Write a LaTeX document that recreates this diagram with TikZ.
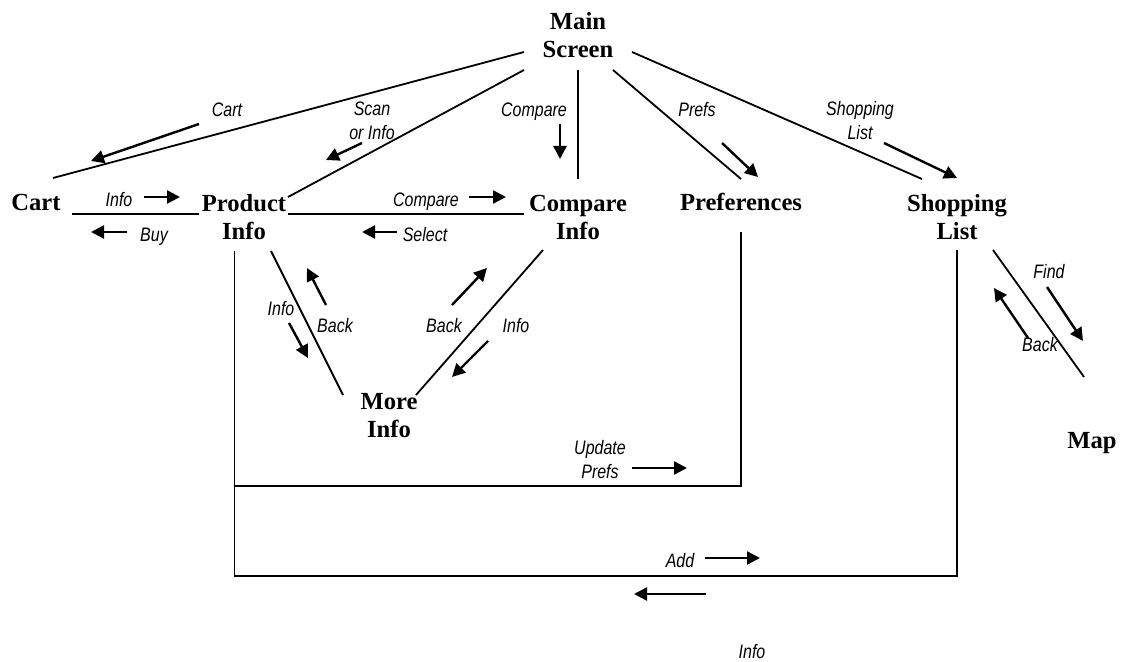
\documentclass[tikz,border=0pt]{standalone}
\usepackage{fontspec}
\setmainfont{Liberation Serif}
\newfontface\lblfont{Liberation Sans Italic}[FakeStretch=0.82]
\usetikzlibrary{arrows.meta}

\begin{document}
\begin{tikzpicture}[x=0.5pt,y=-0.5pt,
  screen/.style={font=\bfseries\fontsize{12.3}{14}\selectfont, align=center, inner sep=0pt, anchor=base},
  lbl/.style={font=\lblfont\fontsize{9.75}{12}\selectfont, align=center, inner sep=0pt, anchor=base},
  link/.style={line width=0.9pt},
  dir/.style={line width=1.2pt, -{Triangle[length=6.5pt,width=6.5pt]}}]

\path[use as bounding box, fill=white] (0,0) rectangle (1128,662);

% screens (a two-line node sits on the base line of its last line)
\node[screen] (main)     at (578,58)  {Main\\Screen};
\node[screen] (cart)     at (36,211)  {Cart};
\node[screen] (product)  at (244,240) {Product\\Info};
\node[screen] (compare)  at (578,240) {Compare\\Info};
\node[screen] (prefs)    at (741,211) {Preferences};
\node[screen] (shopping) at (957,240) {Shopping\\List};
\node[screen] (more)     at (389,437) {More\\Info};
\node[screen] (map)      at (1092,448) {Map};

% connector end points
\coordinate (main-a) at (524,52);
\coordinate (main-b) at (524,70);
\coordinate (main-c) at (578,70);
\coordinate (main-d) at (613,70);
\coordinate (main-e) at (632,52);
\coordinate (cart-n) at (53,178);
\coordinate (cart-e) at (72,214);
\coordinate (prod-w) at (199,214);
\coordinate (prod-ne) at (288,197);
\coordinate (prod-e) at (288,214);
\coordinate (prod-s) at (234.5,251);
\coordinate (prod-se) at (271,251);
\coordinate (comp-n) at (578,179);
\coordinate (comp-w) at (524,214);
\coordinate (comp-s) at (543,250);
\coordinate (pref-n) at (741,179);
\coordinate (pref-s) at (741,232);
\coordinate (shop-n) at (922,179);
\coordinate (shop-s) at (957,250);
\coordinate (shop-se) at (993,250);
\coordinate (more-nw) at (343,395);
\coordinate (more-ne) at (416,395);
\coordinate (map-n) at (1084,377);
\coordinate (upd) at (0,485.7);
\coordinate (add) at (0,575.7);

% connectors
\draw[link] (main-a) -- (cart-n);
\draw[link] (main-b) -- (prod-ne);
\draw[link] (main-c) -- (comp-n);
\draw[link] (main-d) -- (pref-n);
\draw[link] (main-e) -- (shop-n);
\draw[link] (cart-e) -- (prod-w);
\draw[link] (prod-e) -- (comp-w);
\draw[link] (prod-se) -- (more-nw);
\draw[link] (comp-s) -- (more-ne);
\draw[link] (shop-se) -- (map-n);
\draw[link] (pref-s) -- (pref-s |- upd) -- (prod-s |- upd);
\draw[link] (prod-s) -- (prod-s |- add) -- (shop-s |- add) -- (shop-s);

% transitions from the main screen
\node[lbl] (l-cart) at (227,117) {Cart};
\draw[dir] (199,124) -- (91,161);
\node[lbl] (l-scan) at (372,140) {Scan\\or Info};
\draw[dir] (362,143) -- (326,160);
\node[lbl] (l-comp1) at (534,117) {Compare};
\draw[dir] (560,124) -- (560,159);
\node[lbl] (l-prefs) at (697,117) {Prefs};
\draw[dir] (722,143) -- (758,177);
\node[lbl] (l-shop) at (860,140) {Shopping\\List};
\draw[dir] (884,143) -- (957,178);

% cart and product info
\node[lbl] (l-info1) at (119,207) {Info};
\draw[dir] (144,197) -- (180,197);
\node[lbl] (l-buy) at (154,242) {Buy};
\draw[dir] (127,232) -- (91,232);

% product info and compare info
\node[lbl] (l-comp2) at (426,207) {Compare};
\draw[dir] (469,197) -- (506,197);
\node[lbl] (l-select) at (425,242) {Select};
\draw[dir] (397,232) -- (362,232);

% more info
\node[lbl] (l-info2) at (281,315) {Info};
\draw[dir] (289,323) -- (308,358);
\node[lbl] (l-back1) at (335,333) {Back};
\draw[dir] (326,305) -- (307,268);
\node[lbl] (l-back2) at (444,333) {Back};
\draw[dir] (452,305) -- (487,268);
\node[lbl] (l-info3) at (516,333) {Info};
\draw[dir] (488,341) -- (452,377);

% map
\node[lbl] (l-find) at (1049,279) {Find};
\draw[dir] (1047,287) -- (1083,341);
\draw[dir] (1028,338) -- (994,288);
\node[lbl] (l-back3) at (1040,351) {Back};

% preferences and shopping list updates
\node[lbl] (l-upd) at (600,478) {Update\\Prefs};
\draw[dir] (632,468) -- (687,468);
\node[lbl] (l-add) at (680,567) {Add};
\draw[dir] (705,558) -- (760,558);
\draw[dir] (706,594) -- (634,594);
\node[lbl] (l-info4) at (752,658) {Info};
\end{tikzpicture}
\end{document}
